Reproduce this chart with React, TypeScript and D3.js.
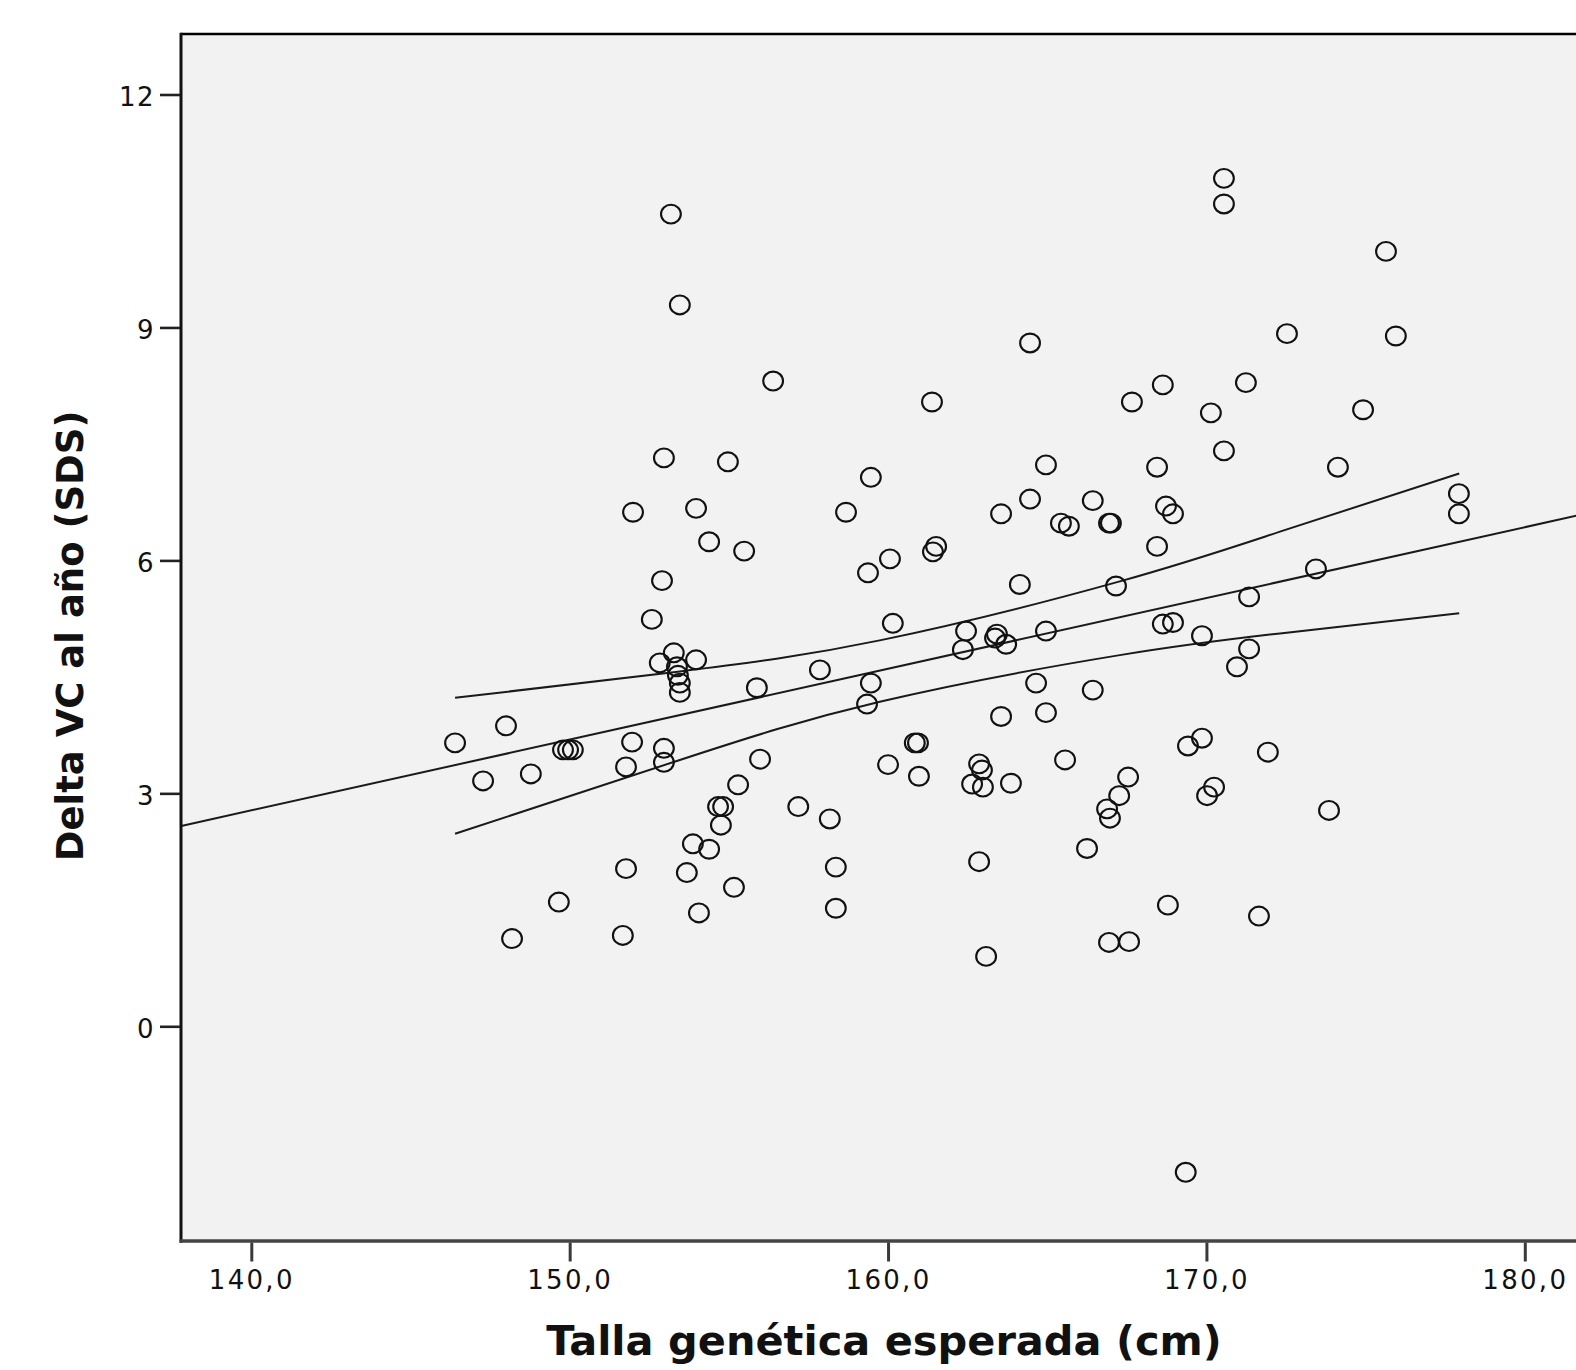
import React, { useRef, useEffect } from 'react';
import * as d3 from 'd3';

// Talla genética esperada (cm) / Delta VC al año (SDS)
const talla = [
    153.18, 153.46, 170.55, 170.55, 175.64, 172.53, 175.95, 164.46, 156.39, 161.38,
    167.66, 168.63, 171.24, 170.14, 174.92, 170.55, 174.13, 152.96, 154.97, 159.46,
    164.96, 168.45, 151.99, 153.97, 154.38, 155.48, 158.68, 160.06, 161.51, 161.41,
    159.37, 163.55, 164.46, 165.43, 165.68, 166.43, 166.94, 167.0, 168.73, 168.95,
    168.45, 177.93, 177.93, 152.9, 164.14, 167.16, 173.44, 171.34, 152.58, 160.15,
    162.45, 163.42, 163.36, 163.71, 164.96, 168.63, 168.95, 169.86, 162.35, 171.34,
    170.96, 153.27, 152.83, 153.97, 153.37, 153.4, 153.46, 153.46, 155.88, 157.86,
    159.46, 159.34, 164.65, 164.96, 163.55, 166.43, 146.4, 148.0, 147.28, 148.78,
    149.79, 149.95, 150.1, 151.77, 151.96, 152.96, 152.96, 155.98, 155.29, 154.66,
    154.82, 154.75, 153.87, 154.38, 153.68, 151.77, 154.06, 155.16, 149.66, 148.19,
    151.67, 157.18, 158.17, 158.36, 158.36, 160.0, 160.84, 160.94, 160.97, 162.86,
    162.95, 162.64, 162.98, 163.86, 162.86, 163.08, 165.56, 166.25, 167.54, 167.26,
    166.88, 166.97, 166.94, 167.57, 168.79, 169.86, 169.42, 170.24, 170.02, 171.93,
    173.85, 171.65, 169.35
];
const deltaVC = [
    10.46, 9.29, 10.92, 10.59, 9.98, 8.92, 8.89, 8.8, 8.31, 8.04,
    8.04, 8.26, 8.29, 7.9, 7.94, 7.41, 7.2, 7.32, 7.27, 7.07,
    7.23, 7.2, 6.62, 6.67, 6.24, 6.12, 6.62, 6.02, 6.18, 6.11,
    5.84, 6.6, 6.79, 6.48, 6.44, 6.77, 6.48, 6.48, 6.7, 6.6,
    6.18, 6.86, 6.6, 5.74, 5.69, 5.67, 5.89, 5.53, 5.24, 5.19,
    5.09, 5.05, 5.0, 4.92, 5.09, 5.18, 5.2, 5.03, 4.85, 4.86,
    4.63, 4.81, 4.68, 4.72, 4.63, 4.52, 4.42, 4.3, 4.36, 4.59,
    4.42, 4.15, 4.42, 4.04, 3.99, 4.33, 3.65, 3.87, 3.16, 3.25,
    3.56, 3.56, 3.56, 3.34, 3.66, 3.58, 3.4, 3.44, 3.11, 2.83,
    2.83, 2.59, 2.35, 2.28, 1.98, 2.03, 1.46, 1.79, 1.6, 1.13,
    1.17, 2.83, 2.67, 2.05, 1.52, 3.37, 3.65, 3.65, 3.22, 3.38,
    3.3, 3.12, 3.08, 3.13, 2.12, 0.9, 3.43, 2.29, 3.21, 2.97,
    2.8, 2.68, 1.08, 1.09, 1.56, 3.71, 3.61, 3.08, 2.97, 3.53,
    2.78, 1.42, -1.88
];

// fit line and 95% band
const fitX = [137.8, 182.0];
const fitY = [2.58, 6.61];
const bandX = [146.4, 153.46, 159.74, 167.28, 172.31, 177.94];
const bandUpper = [4.23, 4.57, 4.97, 5.73, 6.37, 7.12];
const bandLower = [2.48, 3.43, 4.18, 4.78, 5.06, 5.32];

const xTicks = [140, 150, 160, 170, 180];
const yTicks = [0, 3, 6, 9, 12];
const xTitle = 'Talla genética esperada (cm)';
const yTitle = 'Delta VC al año (SDS)';

const W = 1576, H = 1370;
const plot = { l: 181, t: 34, r: 1590, b: 1241 };

export default function App() {
    const svg_ref = useRef<SVGSVGElement>(null);
    useEffect(() => { draw(svg_ref.current); }, []);
    return (
        <svg ref={svg_ref} width={W} height={H}
            style={{ position: 'absolute', left: 0, top: 0, display: 'block', background: '#fff' }} />
    );
}

function draw(node: SVGSVGElement | null) {
    if (!node) return;
    const svg = d3.select(node);
    svg.selectAll('*').remove();

    const x = d3.scaleLinear().domain([140, 180]).range([251.3, 1524.8]);
    const y = d3.scaleLinear().domain([0, 12]).range([1026.3, 94.5]);
    const fmt = d3.formatLocale({ decimal: ',', thousands: '.', grouping: [3], currency: ['', ''] }).format('.1f');

    svg.append('defs').append('clipPath').attr('id', 'plotclip')
        .append('rect')
        .attr('x', plot.l).attr('y', plot.t)
        .attr('width', plot.r - plot.l).attr('height', plot.b - plot.t);

    svg.append('rect')
        .attr('x', plot.l).attr('y', plot.t)
        .attr('width', plot.r - plot.l).attr('height', plot.b - plot.t)
        .attr('fill', '#f2f2f2');

    const g = svg.append('g').attr('clip-path', 'url(#plotclip)');

    const line = d3.line<[number, number]>()
        .x(d => x(d[0]))
        .y(d => y(d[1]));

    g.append('path')
        .attr('d', line(fitX.map((v, i) => [v, fitY[i]] as [number, number])))
        .attr('fill', 'none').attr('stroke', '#1a1a1a').attr('stroke-width', 2);

    [bandUpper, bandLower].forEach(band => {
        g.append('path')
            .attr('d', line.curve(d3.curveNatural)(bandX.map((v, i) => [v, band[i]] as [number, number])))
            .attr('fill', 'none').attr('stroke', '#1a1a1a').attr('stroke-width', 2);
    });

    g.selectAll('ellipse.pt')
        .data(talla.map((v, i) => [v, deltaVC[i]]))
        .join('ellipse')
        .attr('class', 'pt')
        .attr('cx', d => x(d[0]))
        .attr('cy', d => y(d[1]))
        .attr('rx', 9.9)
        .attr('ry', 9.4)
        .attr('fill', 'none')
        .attr('stroke', '#111')
        .attr('stroke-width', 2.1);

    // frame
    svg.append('line').attr('x1', plot.l).attr('x2', plot.r).attr('y1', plot.t).attr('y2', plot.t)
        .attr('stroke', '#000').attr('stroke-width', 2.5);
    svg.append('line').attr('x1', plot.l).attr('x2', plot.l).attr('y1', plot.t - 1.2).attr('y2', plot.b + 1.8)
        .attr('stroke', '#111').attr('stroke-width', 3);
    svg.append('line').attr('x1', plot.l - 1.5).attr('x2', plot.r).attr('y1', plot.b).attr('y2', plot.b)
        .attr('stroke', '#444').attr('stroke-width', 3.6);

    // axes
    const x_axis = d3.axisBottom(x).tickValues(xTicks).tickSize(19).tickFormat(d => fmt(+d));
    const gx = svg.append('g').attr('transform', `translate(0,${plot.b + 1.5})`).call(x_axis);
    gx.select('.domain').remove();
    gx.selectAll('line').attr('stroke', '#3a3a3a').attr('stroke-width', 3);
    gx.selectAll('text')
        .attr('y', 46).attr('dy', 0)
        .attr('fill', '#111')
        .style('font-family', '"DejaVu Sans", Verdana, sans-serif')
        .style('font-size', '26px')
        .style('letter-spacing', '2.3px');

    const y_axis = d3.axisLeft(y).tickValues(yTicks).tickSize(20).tickFormat(d => String(d));
    const gy = svg.append('g').attr('transform', `translate(${plot.l - 1},0)`).call(y_axis);
    gy.select('.domain').remove();
    gy.selectAll('line').attr('stroke', '#222').attr('stroke-width', 2.6);
    gy.selectAll('text')
        .attr('x', -25).attr('dy', '0.42em')
        .attr('fill', '#111')
        .style('font-family', '"DejaVu Sans", Verdana, sans-serif')
        .style('font-size', '26px')
        .style('letter-spacing', '1.5px');

    // titles
    svg.append('text')
        .attr('x', 884).attr('y', 1355)
        .attr('text-anchor', 'middle')
        .attr('fill', '#111')
        .style('font-family', '"DejaVu Sans", Verdana, sans-serif')
        .style('font-weight', 'bold')
        .style('font-size', '41.5px')
        .text(xTitle);

    svg.append('text')
        .attr('transform', 'translate(83,636) rotate(-90)')
        .attr('text-anchor', 'middle')
        .attr('fill', '#111')
        .style('font-family', '"DejaVu Sans", Verdana, sans-serif')
        .style('font-weight', 'bold')
        .style('font-size', '37px')
        .text(yTitle);
}
